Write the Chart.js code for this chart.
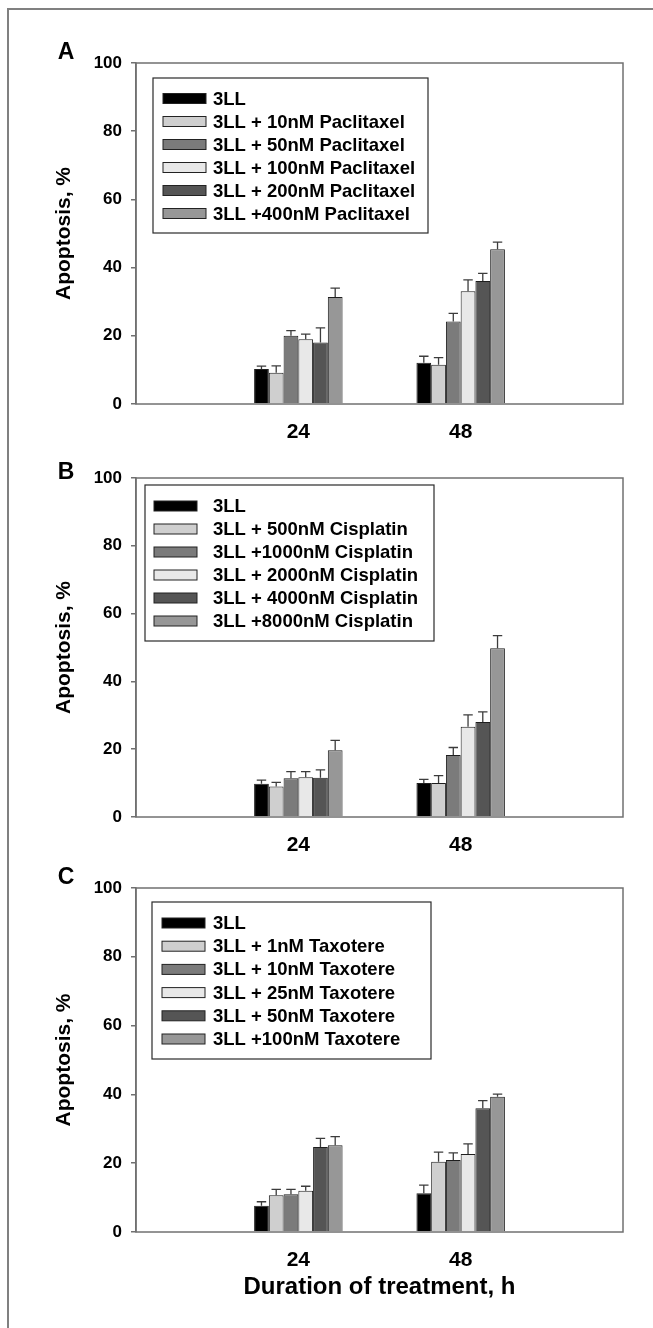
<!DOCTYPE html>
<html>
<head>
<meta charset="utf-8">
<script src="https://cdn.jsdelivr.net/npm/chart.js@4/dist/chart.umd.min.js"></script>
<style>
  html, body { margin: 0; padding: 0; background: #fff; }
  #fig { position: relative; width: 653px; height: 1328px; overflow: hidden; }
  #frame { position: absolute; left: 7px; top: 8px; width: 700px; height: 1400px;
           border-left: 2px solid #808080; border-top: 2px solid #808080; }
  .panel { position: absolute; left: 0; }
</style>
</head>
<body>
<div id="fig">
  <div id="frame"></div>
  <div class="panel" style="top:0px"><canvas id="chartA" width="653" height="440"></canvas></div>
  <div class="panel" style="top:440px"><canvas id="chartB" width="653" height="420"></canvas></div>
  <div class="panel" style="top:860px"><canvas id="chartC" width="653" height="468"></canvas></div>
</div>
<script>
// x positions: empty slots at both ends so 24 and 48 sit at 1/3 and 2/3 of the axis
const hours = ['', '24', '48', ''];
const fills = ['#000000', '#cfcfcf', '#7b7b7b', '#e8e8e8', '#555555', '#979797'];

const paclitaxelLabels = ['3LL', '3LL + 10nM Paclitaxel', '3LL + 50nM Paclitaxel',
  '3LL + 100nM Paclitaxel', '3LL + 200nM Paclitaxel', '3LL +400nM Paclitaxel'];
const paclitaxel24h = [10.3, 9.2, 20.0, 19.0, 18.0, 31.4];
const paclitaxel24hErr = [0.8, 2.0, 1.5, 1.5, 4.3, 2.6];
const paclitaxel48h = [12.1, 11.5, 24.2, 33.1, 36.1, 45.4];
const paclitaxel48hErr = [1.9, 2.1, 2.4, 3.3, 2.2, 2.1];

const cisplatinLabels = ['3LL', '3LL + 500nM Cisplatin', '3LL +1000nM Cisplatin',
  '3LL + 2000nM Cisplatin', '3LL + 4000nM Cisplatin', '3LL +8000nM Cisplatin'];
const cisplatin24h = [9.8, 9.0, 11.4, 11.7, 11.6, 19.7];
const cisplatin24hErr = [1.1, 1.2, 2.0, 1.7, 2.3, 2.9];
const cisplatin48h = [10.0, 10.0, 18.3, 26.6, 28.0, 49.8];
const cisplatin48hErr = [1.1, 2.2, 2.2, 3.5, 3.0, 3.7];

const taxotereLabels = ['3LL', '3LL + 1nM Taxotere', '3LL + 10nM Taxotere',
  '3LL + 25nM Taxotere', '3LL + 50nM Taxotere', '3LL +100nM Taxotere'];
const taxotere24h = [7.6, 10.7, 11.0, 12.0, 24.7, 25.2];
const taxotere24hErr = [1.2, 1.7, 1.4, 1.3, 2.5, 2.5];
const taxotere48h = [11.3, 20.4, 20.9, 22.7, 36.0, 39.3];
const taxotere48hErr = [2.3, 2.8, 2.1, 2.9, 2.2, 0.8];

const yTicks = [0, 20, 40, 60, 80, 100];

const FONT = '"Liberation Sans", Arial, Helvetica, sans-serif';
Chart.defaults.font.family = FONT;
Chart.defaults.color = '#000';

const errorBars = {
  id: 'errorBars',
  afterDatasetsDraw(chart) {
    const ctx = chart.ctx, y = chart.scales.y;
    ctx.save();
    ctx.strokeStyle = '#3c3c3c';
    ctx.lineWidth = 1.3;
    chart.data.datasets.forEach((ds, di) => {
      chart.getDatasetMeta(di).data.forEach((bar, i) => {
        const v = ds.data[i], e = ds.err[i];
        if (v == null || e == null) return;
        const top = y.getPixelForValue(v + e);
        const cap = bar.width * 0.32;
        ctx.beginPath();
        ctx.moveTo(bar.x, bar.y);
        ctx.lineTo(bar.x, top);
        ctx.moveTo(bar.x - cap, top);
        ctx.lineTo(bar.x + cap, top);
        ctx.stroke();
      });
    });
    ctx.restore();
  }
};

const plotFrame = {
  id: 'plotFrame',
  afterDatasetsDraw(chart) {
    const a = chart.chartArea, ctx = chart.ctx;
    ctx.save();
    ctx.strokeStyle = '#707070';
    ctx.lineWidth = 1.5;
    ctx.strokeRect(a.left, a.top, a.right - a.left, a.bottom - a.top);
    ctx.restore();
  }
};

const boxLegend = {
  id: 'boxLegend',
  afterDraw(chart, args, o) {
    const ctx = chart.ctx;
    const names = chart.data.datasets.map(d => d.label);
    ctx.save();
    ctx.fillStyle = '#fff';
    ctx.fillRect(o.x, o.y, o.w, o.h);
    ctx.strokeStyle = '#2a2a2a';
    ctx.lineWidth = 1.2;
    ctx.strokeRect(o.x, o.y, o.w, o.h);
    ctx.font = 'bold 18.5px ' + FONT;
    ctx.textBaseline = 'middle';
    names.forEach((n, i) => {
      const cy = o.y + o.first + i * o.step;
      ctx.fillStyle = chart.data.datasets[i].backgroundColor;
      ctx.fillRect(o.x + o.swatchX, cy - 5, 43, 10);
      ctx.strokeStyle = '#222';
      ctx.lineWidth = 1;
      ctx.strokeRect(o.x + o.swatchX, cy - 5, 43, 10);
      ctx.fillStyle = '#000';
      ctx.fillText(n, o.x + o.textX, cy + 1);
    });
    ctx.restore();
  }
};

const panelTag = {
  id: 'panelTag',
  afterDraw(chart, args, o) {
    const ctx = chart.ctx;
    ctx.save();
    ctx.font = 'bold 23px ' + FONT;
    ctx.fillStyle = '#000';
    ctx.textAlign = 'center';
    ctx.textBaseline = 'middle';
    ctx.fillText(o.text, o.x, o.y);
    ctx.restore();
  }
};

function makeDatasets(labels, v24, e24, v48, e48) {
  return labels.map((lab, i) => ({
    label: lab,
    data: [null, v24[i], v48[i], null],
    err: [null, e24[i], e48[i], null],
    backgroundColor: fills[i],
    borderColor: '#1e1e1e',
    borderWidth: 1
  }));
}

function makeChart(id, datasets, p) {
  const canvas = document.getElementById(id);
  return new Chart(canvas, {
    type: 'bar',
    data: { labels: hours, datasets: datasets },
    plugins: [errorBars, plotFrame, boxLegend, panelTag],
    options: {
      responsive: false,
      animation: false,
      categoryPercentage: 0.545,
      barPercentage: 1,
      layout: { padding: { left: 0, right: 30, top: p.areaTop, bottom: 0 } },
      plugins: {
        legend: { display: false },
        tooltip: { enabled: false },
        boxLegend: p.legend,
        panelTag: p.tag
      },
      scales: {
        x: {
          offset: false,
          grid: { display: false, drawTicks: false },
          border: { display: false },
          ticks: { autoSkip: false, maxRotation: 0, padding: 16, font: { size: 21, weight: 'bold' }, color: '#000' },
          title: p.xTitle ? {
            display: true, text: p.xTitle, color: '#000',
            font: { size: 24, weight: 'bold' }, padding: { top: 0, bottom: p.xTitlePad }
          } : { display: false },
          afterFit(s) { s.height = p.xHeight; }
        },
        y: {
          min: 0, max: 100,
          afterBuildTicks(s) { s.ticks = yTicks.map(v => ({ value: v })); },
          grid: { drawOnChartArea: false, drawTicks: true, tickLength: 5, color: '#707070', lineWidth: 1.5 },
          border: { display: true, color: '#707070', width: 1.5 },
          ticks: { padding: 9, font: { size: 17, weight: 'bold' }, color: '#000' },
          title: {
            display: true, text: 'Apoptosis, %', color: '#000',
            font: { size: 21, weight: 'bold' }, padding: { top: 52, bottom: 0 }
          },
          afterFit(s) { s.width = 136; }
        }
      }
    }
  });
}

makeChart('chartA',
  makeDatasets(paclitaxelLabels, paclitaxel24h, paclitaxel24hErr, paclitaxel48h, paclitaxel48hErr),
  { areaTop: 63, xHeight: 36,
    legend: { x: 153, y: 78, w: 275, h: 155, first: 20.5, step: 23, swatchX: 10, textX: 60 },
    tag: { text: 'A', x: 66, y: 53 } });

makeChart('chartB',
  makeDatasets(cisplatinLabels, cisplatin24h, cisplatin24hErr, cisplatin48h, cisplatin48hErr),
  { areaTop: 38, xHeight: 43,
    legend: { x: 145, y: 45, w: 289, h: 156, first: 21, step: 23, swatchX: 9, textX: 68 },
    tag: { text: 'B', x: 66, y: 33 } });

makeChart('chartC',
  makeDatasets(taxotereLabels, taxotere24h, taxotere24hErr, taxotere48h, taxotere48hErr),
  { areaTop: 28, xHeight: 96, xTitle: 'Duration of treatment, h', xTitlePad: 26,
    legend: { x: 152, y: 42, w: 279, h: 157, first: 21, step: 23.2, swatchX: 10, textX: 61 },
    tag: { text: 'C', x: 66, y: 18 } });
</script>
</body>
</html>
